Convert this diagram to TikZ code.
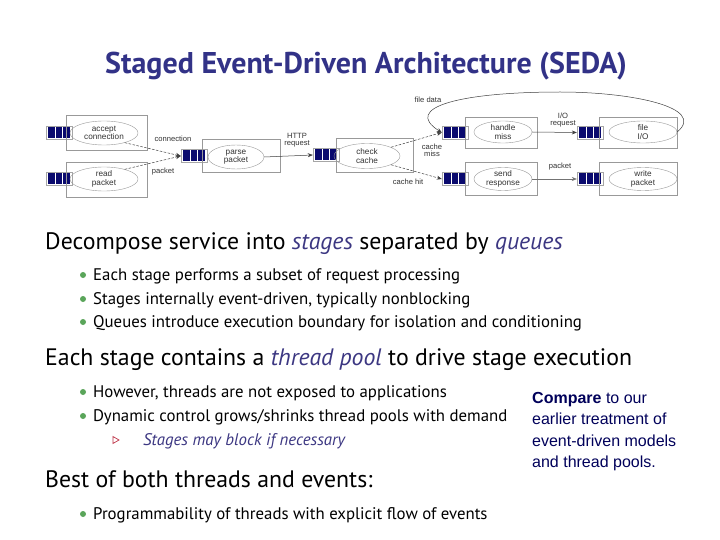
\documentclass[tikz,border=0pt]{standalone}
\usepackage{fontspec}
\setmainfont{PT Sans}
\newfontfamily\figfont{Liberation Sans}
\usetikzlibrary{shapes.geometric, arrows.meta, positioning}
\definecolor{titleblue}{RGB}{50,50,135}
\definecolor{keyblue}{RGB}{60,55,130}
\definecolor{bulletgreen}{RGB}{90,165,90}
\definecolor{trired}{RGB}{190,50,70}
\definecolor{queuenavy}{RGB}{10,10,110}
\definecolor{notenavy}{RGB}{0,0,90}
\tikzstyle{stagebox}  = [rectangle, draw=gray!80, inner sep=0pt]
\tikzstyle{handler}   = [ellipse, draw=gray!80, inner sep=0pt, align=center,
                         text=black!80, font=\figfont\fontsize{8.2}{8.6}\selectfont]
\tikzstyle{queue}     = [rectangle, draw=gray!70, minimum width=26pt, minimum height=13pt,
                         path picture={\foreach \dx in {-7.5,0,7.5}
                           \fill[queuenavy] ([xshift=\dx pt-3.3pt, yshift=-5.5pt]path picture bounding box.center) rectangle ++(6.6pt,11pt);}]
\tikzstyle{flow}      = [-{Stealth[length=5pt,width=4pt]}, black!75, line width=0.5pt]
\tikzstyle{eventflow} = [flow, dash pattern=on 2.5pt off 1.5pt]
\tikzstyle{lbl}       = [inner sep=0pt, align=center, text=black!80,
                         font=\figfont\fontsize{7.6}{7.2}\selectfont]
\tikzstyle{heading}   = [anchor=base west, inner sep=0pt, font=\fontsize{23.8}{28}\selectfont]
\tikzstyle{item}      = [anchor=base west, inner sep=0pt, font=\fontsize{16.8}{20}\selectfont]
\tikzstyle{dot}       = [circle, fill=bulletgreen, inner sep=0pt, minimum size=6pt]
\newcommand{\keyword}[1]{{\color{keyblue}\itshape #1}}

\begin{document}
\begin{tikzpicture}[x=1pt, y=-1pt]
  \fill[white] (0,0) rectangle (720,540);
  \useasboundingbox (0,0) rectangle (720,540);

  \node (title) [anchor=base, inner sep=0pt, text=titleblue, font=\bfseries\fontsize{30}{36}\selectfont]
    at (366,74) {Staged Event-Driven Architecture (SEDA)};

  % queues first, stage boxes over them
  \node (qaccept) [queue] at (59,133) {};
  \node (qread)   [queue] at (59,179) {};
  \node (qparse)  [queue] at (194,156) {};
  \node (qcheck)  [queue] at (326,155) {};
  \node (qhandle) [queue] at (455,132.5) {};
  \node (qfileio) [queue] at (590,132.5) {};
  \node (qsend)   [queue] at (455,179) {};
  \node (qwrite)  [queue] at (590,179) {};

  \node (baccept) [stagebox, minimum width=81pt, minimum height=35pt] at (106.5,133) {};
  \node (bread)   [stagebox, minimum width=81pt, minimum height=35pt] at (106.5,179.5) {};
  \node (bparse)  [stagebox, minimum width=78pt, minimum height=33pt] at (241,155.5) {};
  \node (bcheck)  [stagebox, minimum width=77pt, minimum height=34pt] at (374.5,155) {};
  \node (bhandle) [stagebox, minimum width=72pt, minimum height=31pt] at (501,132.5) {};
  \node (bfileio) [stagebox, minimum width=78pt, minimum height=31pt] at (638,132.5) {};
  \node (bsend)   [stagebox, minimum width=72pt, minimum height=33pt] at (501,178.5) {};
  \node (bwrite)  [stagebox, minimum width=78pt, minimum height=33pt] at (638,178.5) {};

  \node (accept) [handler, minimum width=68pt, minimum height=24pt] at (104,133) {accept\\connection};
  \node (read)   [handler, minimum width=68pt, minimum height=24pt] at (104,179) {read\\packet};
  \node (parse)  [handler, minimum width=56pt, minimum height=24pt] at (236,157) {parse\\packet};
  \node (check)  [handler, minimum width=66pt, minimum height=25pt] at (367,156) {check\\cache};
  \node (handle) [handler, minimum width=58pt, minimum height=22pt] at (503,132) {handle\\miss};
  \node (fileio) [handler, minimum width=68pt, minimum height=22pt] at (643,132) {file\\I/O};
  \node (send)   [handler, minimum width=58pt, minimum height=22pt] at (503,179) {send\\response};
  \node (write)  [handler, minimum width=68pt, minimum height=22pt] at (643,179) {write\\packet};

  \draw[eventflow] (accept.-25) -- (qparse.west);
  \draw[eventflow] (read.25) -- (qparse.west);
  \draw[flow] (parse.east) -- (qcheck.west);
  \draw[eventflow] (check.20) -- (qhandle.west);
  \draw[eventflow] (check.-20) -- (qsend.west);
  \draw[flow] (handle.east) -- (qfileio.west);
  \draw[flow, black!55] (send.east) -- (qwrite.west);
  \draw[flow] (fileio.east) .. controls +(30,-25) and +(70,0) .. (560,92)
    .. controls +(-100,0) and +(-40,-25) .. (qhandle.west);

  \node (lconn)  [lbl] at (173,139) {connection};
  \node (lpack)  [lbl] at (163,172) {packet};
  \node (lhttp)  [lbl] at (297,140) {HTTP\\request};
  \node (lmiss)  [lbl] at (432,150) {cache\\miss};
  \node (lhit)   [lbl] at (408,182) {cache hit};
  \node (lio)    [lbl] at (563,120) {I/O\\request};
  \node (lpack2) [lbl] at (560,167) {packet};
  \node (lfile)  [lbl] at (428,100) {file data};

  % slide text
  \node (h1) [heading] at (45,249) {Decompose service into \keyword{stages} separated by \keyword{queues}};
  \node (d1) [dot] at (83,275) {};
  \node (i1) [item] at (93,280) {Each stage performs a subset of request processing};
  \node (d2) [dot] at (83,299) {};
  \node (i2) [item] at (93,304) {Stages internally event-driven, typically nonblocking};
  \node (d3) [dot] at (83,322) {};
  \node (i3) [item] at (93,327) {Queues introduce execution boundary for isolation and conditioning};

  \node (h2) [heading] at (45,365) {Each stage contains a \keyword{thread pool} to drive stage execution};
  \node (d4) [dot] at (83,392) {};
  \node (i4) [item] at (93,397) {However, threads are not exposed to applications};
  \node (d5) [dot] at (83,416) {};
  \node (i5) [item] at (93,421) {Dynamic control grows/shrinks thread pools with demand};
  \node (t6) [isosceles triangle, isosceles triangle apex angle=60, draw=trired, line width=0.7pt,
              inner sep=0pt, minimum height=6pt] at (115,440) {};
  \node (i6) [item] at (143,445) {\keyword{Stages may block if necessary}};

  \node (h3) [heading] at (45,487) {Best of both threads and events:};
  \node (d7) [dot] at (83,514) {};
  \node (i7) [item] at (93,519) {Programmability of threads with explicit flow of events};

  \node (note) [anchor=north west, inner sep=0pt, align=left, text=notenavy,
                font=\figfont\fontsize{16}{21.5}\selectfont] at (532,392)
    {\textbf{Compare} to our\\earlier treatment of\\event-driven models\\and thread pools.};
\end{tikzpicture}
\end{document}
